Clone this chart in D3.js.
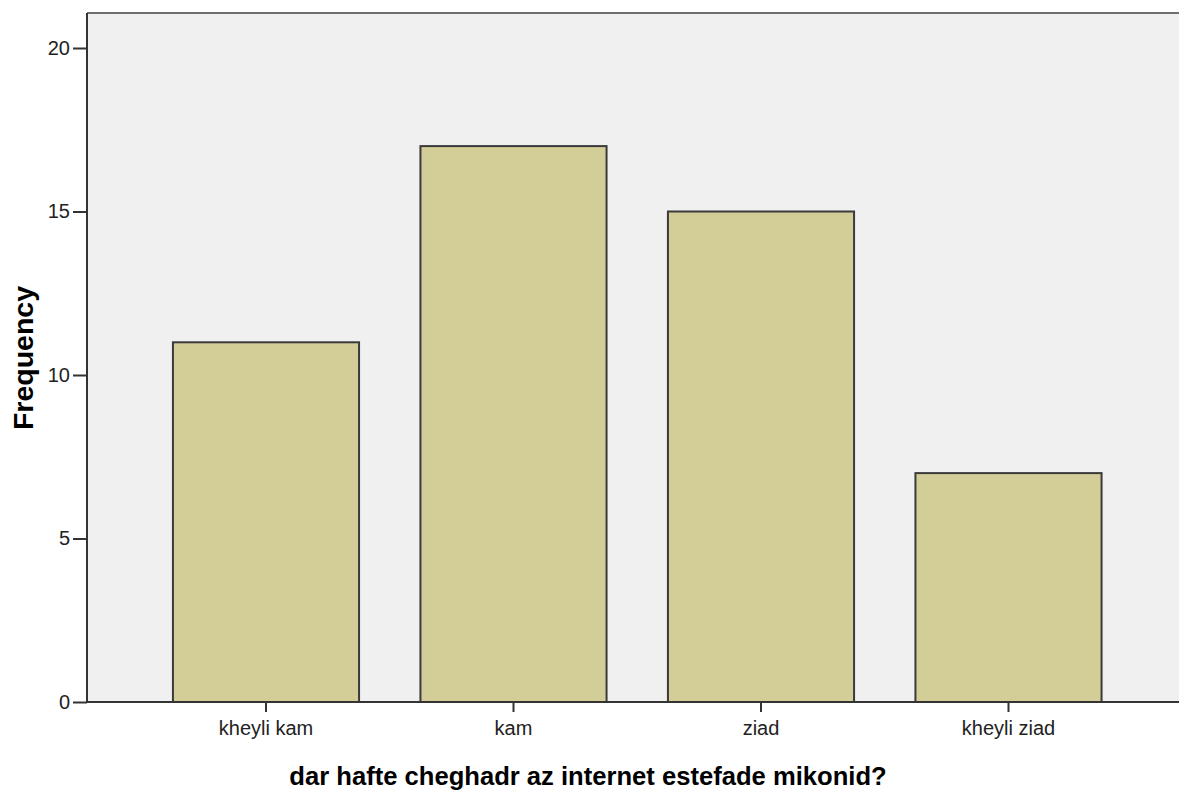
<!DOCTYPE html>
<html lang="en">
<head>
  <meta charset="UTF-8">
  <title>Frequency bar chart</title>
  <style>
    body {
      margin: 0;
      background: #ffffff;
    }
    svg {
      display: block;
    }
  </style>
</head>
<body>
  <svg id="chart" width="1179" height="794"></svg>

  <script src="https://d3js.org/d3.v7.min.js"></script>
  <script>
    const categories = ["kheyli kam", "kam", "ziad", "kheyli ziad"];
    const frequencies = [11, 17, 15, 7];
    const yTicks = [0, 5, 10, 15, 20];

    const svg = d3.select("#chart");
    const width = +svg.attr("width");

    // plot frame
    const plotLeft = 87, plotTop = 13, plotBottom = 702;

    const x = d3.scaleBand()
      .domain(categories)
      .range([142.25, 1132.25])
      .paddingInner(0.248)
      .paddingOuter(0.124);

    const y = d3.scaleLinear()
      .domain([0, 20])
      .range([plotBottom, 48]);

    svg.append("rect")
      .attr("x", plotLeft)
      .attr("y", plotTop)
      .attr("width", width - plotLeft)
      .attr("height", plotBottom - plotTop)
      .attr("fill", "#f0f0f0");

    // top border
    svg.append("line")
      .attr("x1", plotLeft).attr("x2", width)
      .attr("y1", plotTop).attr("y2", plotTop)
      .attr("stroke", "#6e6e6e")
      .attr("stroke-width", 2);

    svg.selectAll("rect.bar")
      .data(frequencies)
      .join("rect")
      .attr("class", "bar")
      .attr("x", (d, i) => x(categories[i]))
      .attr("y", d => y(d))
      .attr("width", x.bandwidth())
      .attr("height", d => y(0) - y(d))
      .attr("fill", "#d3ce97")
      .attr("stroke", "#3a3a3a")
      .attr("stroke-width", 2);

    // y axis
    const yAxis = svg.append("g")
      .attr("transform", `translate(${plotLeft},0)`)
      .call(d3.axisLeft(y).tickValues(yTicks).tickSize(14).tickSizeOuter(0).tickPadding(3));
    yAxis.select(".domain").remove();
    yAxis.append("line")
      .attr("x1", 0).attr("x2", 0)
      .attr("y1", plotTop).attr("y2", plotBottom)
      .attr("stroke", "#333")
      .attr("stroke-width", 2);

    // x axis
    const xAxis = svg.append("g")
      .attr("transform", `translate(0,${plotBottom})`)
      .call(d3.axisBottom(x).tickSize(10).tickSizeOuter(0).tickPadding(9));
    xAxis.select(".domain").remove();
    xAxis.append("line")
      .attr("x1", plotLeft).attr("x2", width)
      .attr("y1", 0).attr("y2", 0)
      .attr("stroke", "#333")
      .attr("stroke-width", 2);

    svg.selectAll(".tick line")
      .attr("stroke", "#333")
      .attr("stroke-width", 2);
    svg.selectAll(".tick text")
      .attr("fill", "#222")
      .attr("font-family", "'Liberation Sans', Arial, sans-serif")
      .attr("font-size", "20px");

    // axis titles
    svg.append("text")
      .attr("x", 588)
      .attr("y", 785)
      .attr("text-anchor", "middle")
      .attr("font-family", "'Liberation Sans', Arial, sans-serif")
      .attr("font-weight", "bold")
      .attr("font-size", "25.6px")
      .attr("fill", "#000")
      .text("dar hafte cheghadr az internet estefade mikonid?");

    svg.append("text")
      .attr("transform", "translate(33,358) rotate(-90)")
      .attr("text-anchor", "middle")
      .attr("font-family", "'Liberation Sans', Arial, sans-serif")
      .attr("font-weight", "bold")
      .attr("font-size", "28.5px")
      .attr("fill", "#000")
      .text("Frequency");
  </script>
</body>
</html>
